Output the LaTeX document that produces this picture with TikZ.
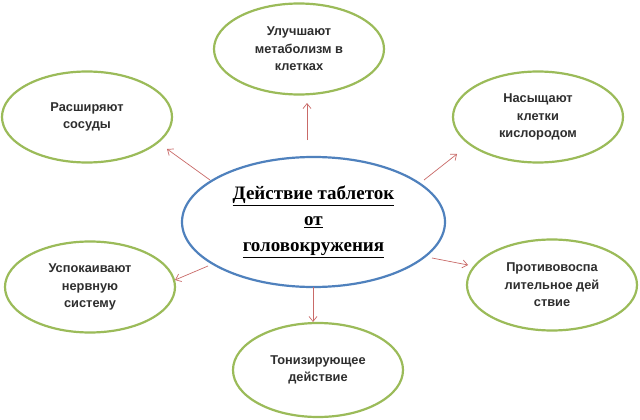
\documentclass[tikz,border=0pt]{standalone}
\usepackage{fontspec}
\setmainfont{Liberation Serif}
\setsansfont{Liberation Sans}
\usetikzlibrary{shapes.geometric,arrows.meta}
\definecolor{ogreen}{HTML}{9BBB59}
\definecolor{oblue}{HTML}{4F81BD}
\definecolor{ored}{HTML}{C0504D}
\definecolor{otext}{HTML}{2E2E2E}
\begin{document}
\begin{tikzpicture}[x=1pt,y=-1pt,
  leaf/.style={ellipse,draw=ogreen,line width=2.2pt,inner sep=0pt,
    minimum width=170pt,minimum height=91pt,align=center,text=otext,
    font=\sffamily\bfseries\fontsize{12.8}{17.5}\selectfont},
  hub/.style={ellipse,draw=oblue,line width=2.2pt,inner sep=0pt,
    minimum width=263pt,minimum height=130pt,align=center,
    font=\rmfamily\bfseries\fontsize{19}{26}\selectfont},
  link/.style={draw=ored!85,line width=0.7pt,-{Straight Barb[length=5pt,width=8pt]}}]
\useasboundingbox[fill=white] (0,0) rectangle (640,420);
\node[hub] (c) at (313.5,222) {\underline{Действие таблеток}\\\underline{от}\\\underline{головокружения}};
\node[leaf] (t) at (299,49) {Улучшают\\метаболизм в\\клетках};
\node[leaf] (lt) at (87,117) {Расширяют\\сосуды};
\node[leaf] (rt) at (538,117) {Насыщают\\клетки\\кислородом};
\node[leaf] (lb) at (90,287) {Успокаивают\\нервную\\систему};
\node[leaf] (rb) at (552,285) {Противовоспа\\лительное дей\\ствие};
\node[leaf,minimum height=94pt] (b) at (318,370) {Тонизирующее\\действие};
\coordinate (s1) at (307,140); \coordinate (e1) at (307,103);
\coordinate (s2) at (210,180); \coordinate (e2) at (167,149);
\coordinate (s3) at (424,180); \coordinate (e3) at (457,154);
\coordinate (s4) at (208,266); \coordinate (e4) at (175,280);
\coordinate (s5) at (432,258); \coordinate (e5) at (468,265);
\coordinate (s6) at (313,287); \coordinate (e6) at (313,322);
\draw[link] (s1) -- (e1);
\draw[link] (s2) -- (e2);
\draw[link] (s3) -- (e3);
\draw[link] (s4) -- (e4);
\draw[link] (s5) -- (e5);
\draw[link] (s6) -- (e6);
\end{tikzpicture}
\end{document}
